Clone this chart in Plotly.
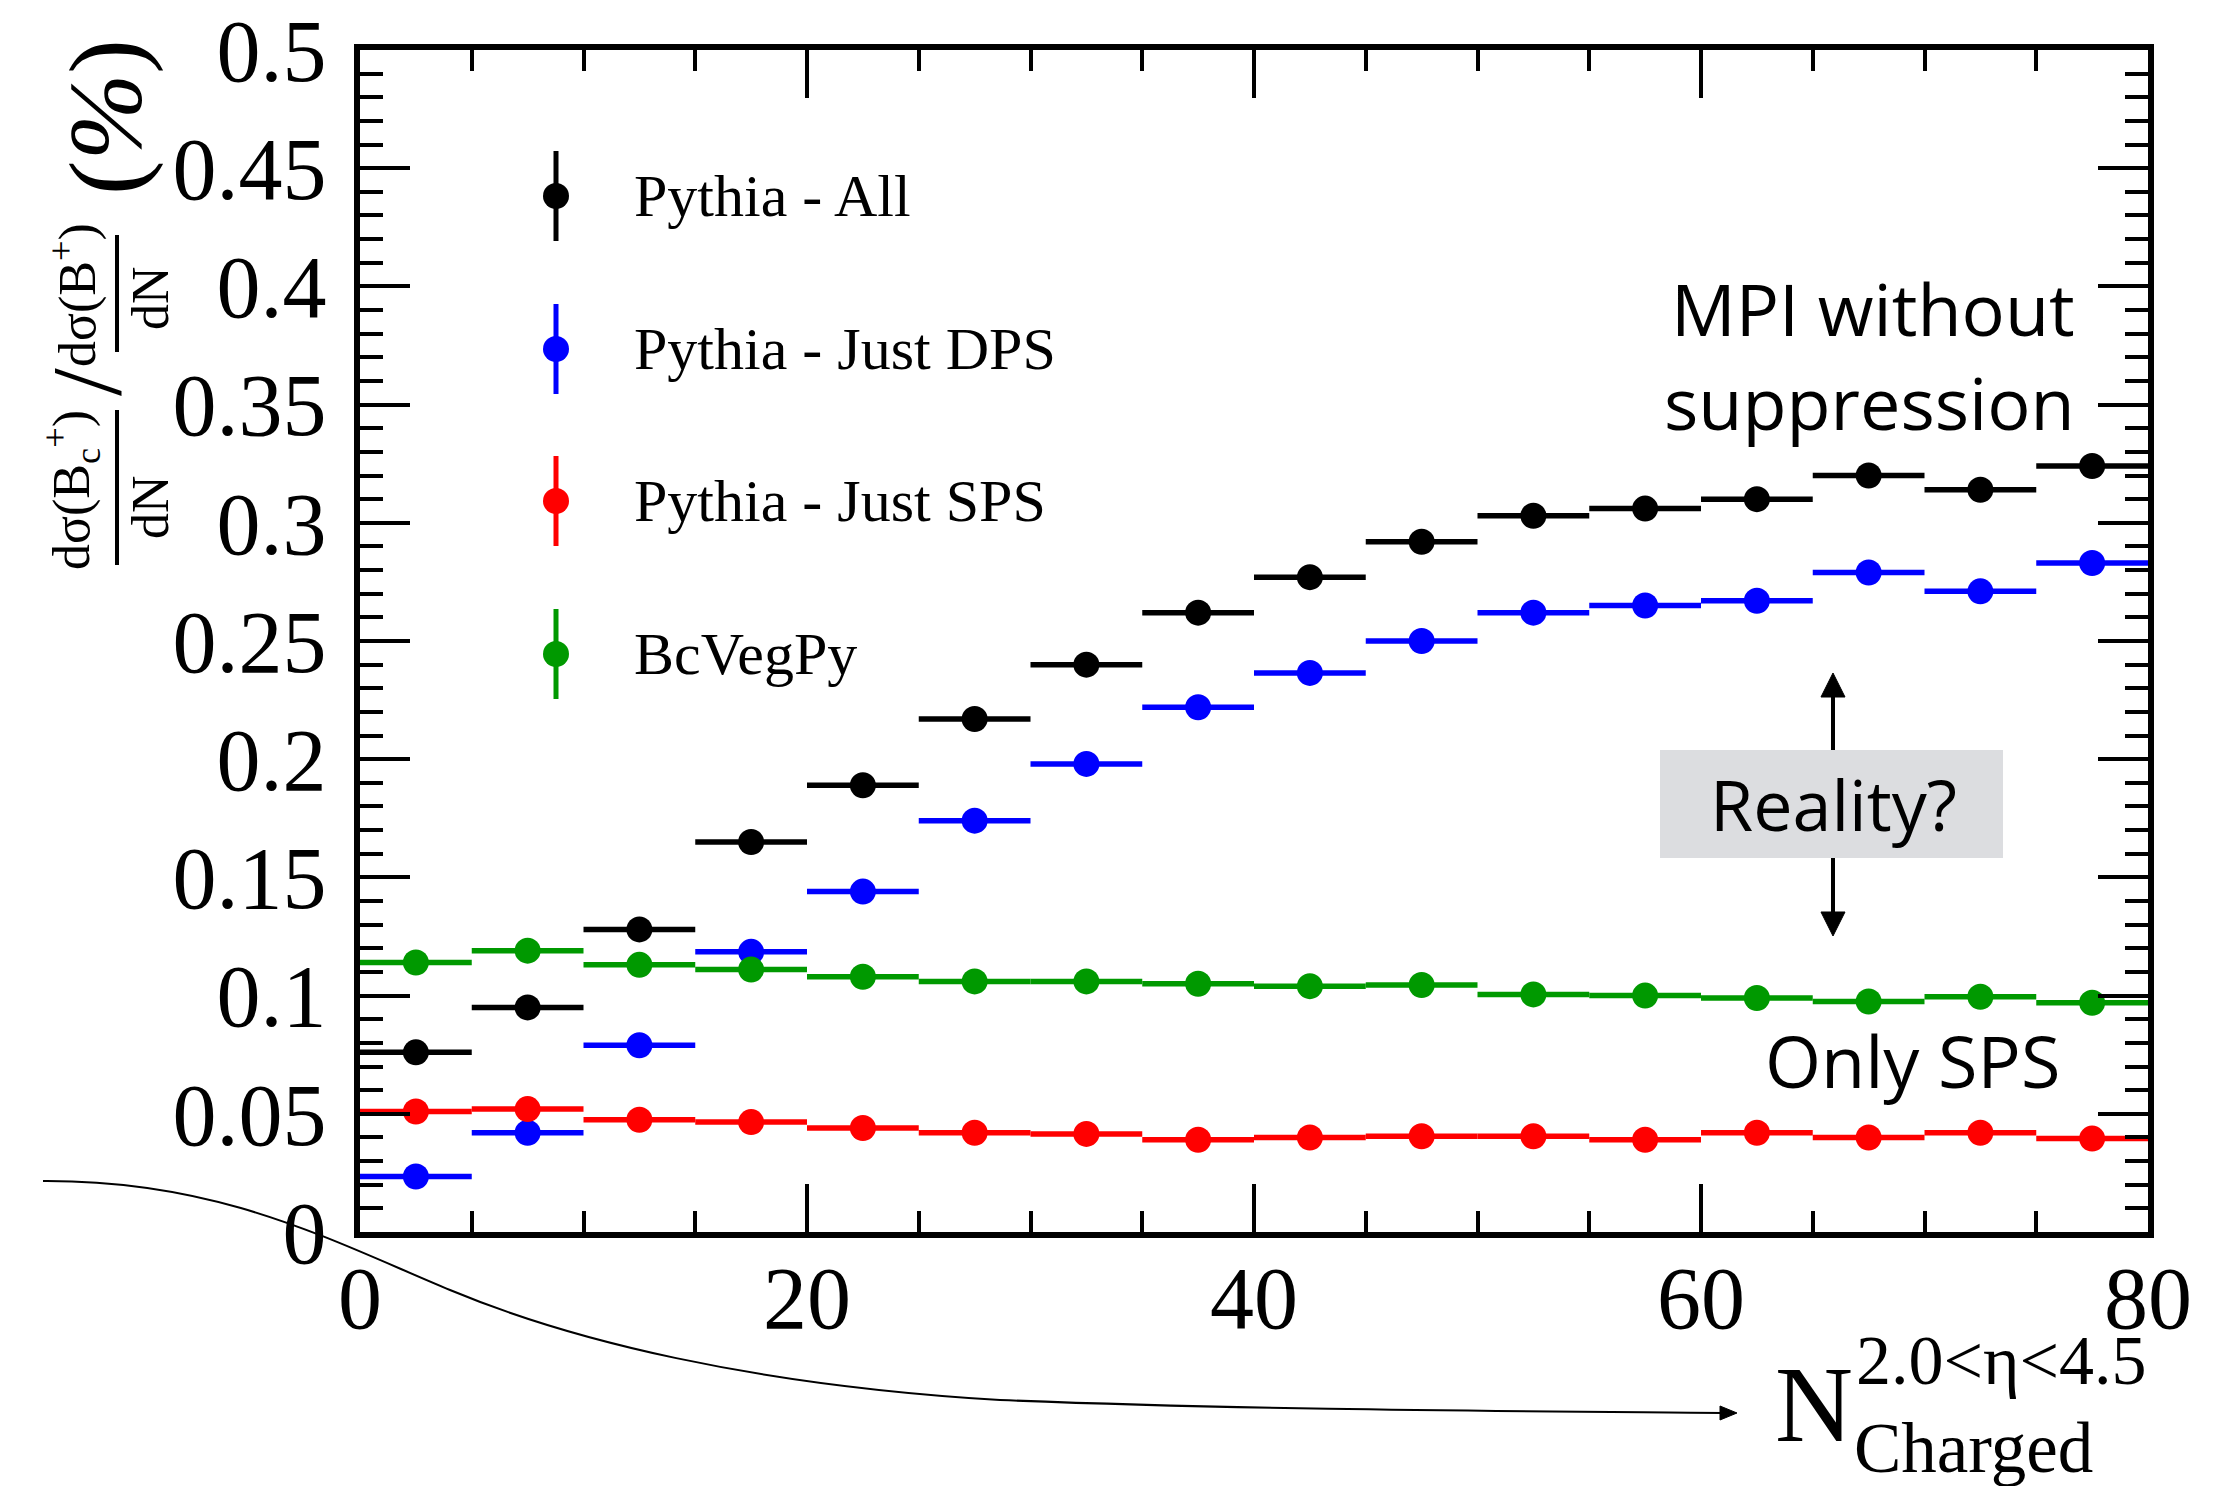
import plotly.graph_objects as go

# ---------------- data ----------------
n_charged = [2.5, 7.5, 12.5, 17.5, 22.5, 27.5, 32.5, 37.5, 42.5, 47.5,
             52.5, 57.5, 62.5, 67.5, 72.5, 77.5]
bin_half_width = 2.5

pythia_all = [0.076, 0.095, 0.128, 0.165, 0.189, 0.217, 0.240, 0.262, 0.277, 0.292,
              0.303, 0.306, 0.310, 0.320, 0.314, 0.324]
pythia_all_err = [0.0015, 0.0015, 0.0015, 0.0015, 0.0018, 0.0018, 0.002, 0.002, 0.002, 0.0022,
                  0.0024, 0.0026, 0.0028, 0.003, 0.0032, 0.0045]

pythia_dps = [0.0235, 0.042, 0.079, 0.1185, 0.144, 0.174, 0.198, 0.222, 0.2365, 0.250,
              0.262, 0.265, 0.267, 0.279, 0.271, 0.283]
pythia_dps_err = [0.001, 0.001, 0.0012, 0.0014, 0.0015, 0.0016, 0.0018, 0.002, 0.002, 0.002,
                  0.0022, 0.0024, 0.0026, 0.0028, 0.003, 0.0042]

pythia_sps = [0.051, 0.052, 0.0475, 0.0465, 0.044, 0.042, 0.0415, 0.039, 0.040, 0.0405,
              0.0405, 0.039, 0.042, 0.040, 0.042, 0.0395]
pythia_sps_err = [0.001] * 16

bcvegpy = [0.114, 0.119, 0.113, 0.111, 0.108, 0.106, 0.106, 0.105, 0.104, 0.1045,
           0.1005, 0.100, 0.099, 0.0975, 0.0995, 0.097]
bcvegpy_err = [0.0008] * 16

series_names = ["Pythia - All", "Pythia - Just DPS", "Pythia - Just SPS", "BcVegPy"]
series_values = [pythia_all, pythia_dps, pythia_sps, bcvegpy]
series_errors = [pythia_all_err, pythia_dps_err, pythia_sps_err, bcvegpy_err]
series_colors = ["#000000", "#0000ff", "#ff0000", "#009900"]

x_ticks = [0, 20, 40, 60, 80]

# ---------------- layout geometry ----------------
W, H = 2231, 1486
PAGE_OFF = 8          # default body margin of the html page
PL, PR, PT, PB = 360, 2148, 50, 1232


def px(x):
    return (x - PL) / (PR - PL)


def py(y):
    return (PB - y) / (PB - PT)


SERIF = "Liberation Serif, Times New Roman, serif"
SANS = "Open Sans, Noto Sans, sans-serif"

fig = go.Figure()

for name, vals, errs, col in zip(series_names, series_values, series_errors, series_colors):
    fig.add_trace(go.Scatter(
        x=n_charged, y=vals, name=name, mode="markers",
        marker=dict(color=col, size=26, symbol="circle"),
        error_x=dict(type="constant", value=bin_half_width, color=col, thickness=5.5, width=0),
        error_y=dict(type="data", array=errs, color=col, thickness=3, width=0),
        showlegend=False, cliponaxis=False,
    ))

# custom legend (markers with vertical bars, on an overlay axis spanning the plot area)
legend_px_x = 556
legend_px_y = [196, 349, 501, 654]
legend_bar = 45 / (PB - PT)
for name, col, ly in zip(series_names, series_colors, legend_px_y):
    fig.add_trace(go.Scatter(
        x=[px(legend_px_x)], y=[py(ly)], mode="markers", xaxis="x2", yaxis="y2",
        marker=dict(color=col, size=26),
        error_y=dict(type="constant", value=legend_bar, color=col, thickness=5, width=0),
        showlegend=False, hoverinfo="skip", cliponaxis=False,
    ))

annotations = []
for name, ly in zip(series_names, legend_px_y):
    annotations.append(dict(
        x=px(632), y=py(ly), xref="paper", yref="paper", text=name, showarrow=False,
        xanchor="left", yanchor="middle", font=dict(family=SERIF, size=60, color="black")))

# text annotations in the plot
annotations += [
    dict(x=px(2077), y=py(355), xref="paper", yref="paper", text="MPI without<br>suppression",
         showarrow=False, xanchor="right", yanchor="middle", align="right",
         font=dict(family=SANS, size=72, color="black")),
    dict(x=px(1912), y=py(1060), xref="paper", yref="paper", text="Only SPS",
         showarrow=False, xanchor="center", yanchor="middle",
         font=dict(family=SANS, size=72, color="black")),
    dict(x=px(1833), y=py(804), xref="paper", yref="paper", text="Reality?",
         showarrow=False, xanchor="center", yanchor="middle",
         font=dict(family=SANS, size=70, color="black")),
    # x axis title
    dict(x=px(1814), y=py(1404), xref="paper", yref="paper", text="N",
         showarrow=False, xanchor="center", yanchor="middle",
         font=dict(family=SERIF, size=108, color="black")),
    dict(x=px(1854), y=py(1360), xref="paper", yref="paper", text="2.0&lt;η&lt;4.5",
         showarrow=False, xanchor="left", yanchor="middle",
         font=dict(family=SERIF, size=70, color="black")),
    dict(x=px(1852), y=py(1448), xref="paper", yref="paper", text="Charged",
         showarrow=False, xanchor="left", yanchor="middle",
         font=dict(family=SERIF, size=71, color="black")),
    # y axis title pieces (rotated)
    dict(x=px(72), y=py(490), xref="paper", yref="paper", text="dσ(B<sub>c</sub><sup>+</sup>)",
         showarrow=False, textangle=-90, xanchor="center", yanchor="middle",
         font=dict(family=SERIF, size=52, color="black")),
    dict(x=px(150), y=py(507), xref="paper", yref="paper", text="dN",
         showarrow=False, textangle=-90, xanchor="center", yanchor="middle",
         font=dict(family=SERIF, size=52, color="black")),
    dict(x=px(86), y=py(382), xref="paper", yref="paper", text="/",
         showarrow=False, textangle=-90, xanchor="center", yanchor="middle",
         font=dict(family=SERIF, size=100, color="black")),
    dict(x=px(74), y=py(295), xref="paper", yref="paper", text="dσ(B<sup>+</sup>)",
         showarrow=False, textangle=-90, xanchor="center", yanchor="middle",
         font=dict(family=SERIF, size=52, color="black")),
    dict(x=px(150), y=py(298), xref="paper", yref="paper", text="dN",
         showarrow=False, textangle=-90, xanchor="center", yanchor="middle",
         font=dict(family=SERIF, size=52, color="black")),
    dict(x=px(106), y=py(117), xref="paper", yref="paper", text="(<i>%</i>)",
         showarrow=False, textangle=-90, xanchor="center", yanchor="middle",
         font=dict(family=SERIF, size=104, color="black")),
]


def tri(p1, p2, p3):
    return "M {:.5f},{:.5f} L {:.5f},{:.5f} L {:.5f},{:.5f} Z".format(
        px(p1[0]), py(p1[1]), px(p2[0]), py(p2[1]), px(p3[0]), py(p3[1]))


shapes = [
    # Reality? box
    dict(type="rect", xref="paper", yref="paper", x0=px(1660), x1=px(2003), y0=py(858), y1=py(750),
         fillcolor="#dcdde0", line=dict(width=0), layer="below"),
    # up / down arrows from the box
    dict(type="line", xref="paper", yref="paper", x0=px(1833), x1=px(1833), y0=py(750), y1=py(692),
         line=dict(color="black", width=4)),
    dict(type="path", xref="paper", yref="paper", path=tri((1833, 673), (1821, 697), (1845, 697)),
         fillcolor="black", line=dict(color="black", width=1)),
    dict(type="line", xref="paper", yref="paper", x0=px(1833), x1=px(1833), y0=py(858), y1=py(917),
         line=dict(color="black", width=4)),
    dict(type="path", xref="paper", yref="paper", path=tri((1833, 936), (1821, 912), (1845, 912)),
         fillcolor="black", line=dict(color="black", width=1)),
    # fraction bars in y title
    dict(type="line", xref="paper", yref="paper", x0=px(117), x1=px(117), y0=py(410), y1=py(565),
         line=dict(color="black", width=4)),
    dict(type="line", xref="paper", yref="paper", x0=px(117), x1=px(117), y0=py(235), y1=py(352),
         line=dict(color="black", width=4)),
    # curved arrow line below the axis
    dict(type="path", xref="paper", yref="paper",
         path=("M {:.5f},{:.5f} C {:.5f},{:.5f} {:.5f},{:.5f} {:.5f},{:.5f} "
               "C {:.5f},{:.5f} {:.5f},{:.5f} {:.5f},{:.5f} "
               "C {:.5f},{:.5f} {:.5f},{:.5f} {:.5f},{:.5f}").format(
             px(43), py(1181), px(220), py(1180), px(330), py(1240), px(450), py(1290),
             px(570), py(1340), px(750), py(1385), px(1000), py(1400),
             px(1250), py(1410), px(1500), py(1411), px(1724), py(1413)),
         line=dict(color="black", width=2)),
    dict(type="path", xref="paper", yref="paper", path=tri((1737, 1413), (1720, 1406), (1720, 1420)),
         fillcolor="black", line=dict(color="black", width=1)),
]

axis_common = dict(showline=True, linewidth=6, linecolor="black", mirror="ticks",
                   ticks="inside", tickcolor="black", showgrid=False, zeroline=False,
                   automargin=False, ticklabeloverflow="allow",
                   tickfont=dict(family=SERIF, size=88, color="black"))

fig.update_layout(
    width=W, height=H,
    # plot area placed so that it lands at (PL..PR, PT..PB) in the window, page margin included
    margin=dict(l=PL - PAGE_OFF, r=W - PR + PAGE_OFF, t=PT - PAGE_OFF, b=H - PB + PAGE_OFF),
    paper_bgcolor="white", plot_bgcolor="white",
    showlegend=False,
    xaxis=dict(range=[0, 80], tickvals=x_ticks, ticklen=48, tickwidth=4,
               minor=dict(dtick=5, ticklen=21, tickwidth=4, ticks="inside", tickcolor="black"),
               ticklabelstandoff=-16, **axis_common),
    yaxis=dict(range=[0, 0.5], dtick=0.05, ticklen=50, tickwidth=4,
               minor=dict(dtick=0.01, ticklen=23, tickwidth=4, ticks="inside", tickcolor="black"),
               ticklabelstandoff=10, **axis_common),
    xaxis2=dict(range=[0, 1], domain=[0, 1], overlaying="x", anchor="y2", visible=False),
    yaxis2=dict(range=[0, 1], domain=[0, 1], overlaying="y", anchor="x2", visible=False),
    annotations=annotations,
    shapes=shapes,
)

fig.write_html("out.html")
